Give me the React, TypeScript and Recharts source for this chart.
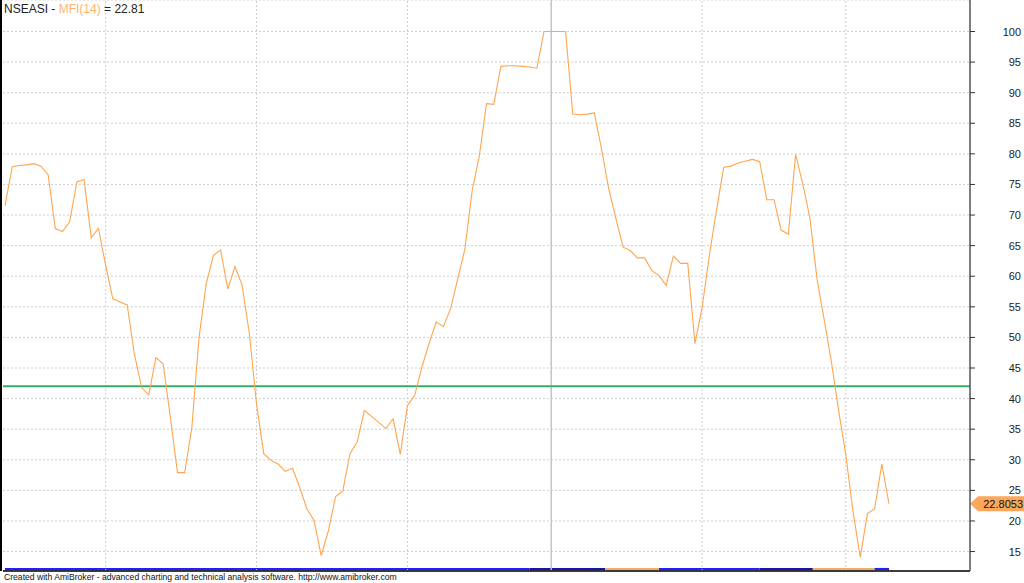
import React from "react";
import {
  LineChart,
  Line,
  XAxis,
  YAxis,
  CartesianGrid,
  ReferenceLine,
  ReferenceArea,
} from "recharts";

// ---- data ----
const TICKER = "NSEASI";
const INDICATOR = "MFI(14)";
const LAST_SHORT = "22.81";
const LAST_LONG = "22.8053";

const MFI: number[] = [
  71.5, 77.9, 78.1, 78.2, 78.4, 78.0, 76.6, 67.8, 67.3, 68.9,
  75.4, 75.8, 66.3, 67.8, 61.8, 56.3, 55.8, 55.3, 47.3, 41.8,
  40.6, 46.7, 45.7, 37.0, 27.9, 27.9, 35.3, 50.0, 58.8, 63.4,
  64.3, 57.9, 61.6, 58.5, 50.6, 39.1, 31.0, 29.9, 29.3, 28.1,
  28.6, 25.5, 22.0, 20.1, 14.35, 18.4, 24.0, 24.9, 31.0, 32.9,
  38.05, 37.1, 36.1, 35.1, 36.7, 30.9, 38.9, 40.5, 45.1, 49.0,
  52.5, 51.8, 54.7, 59.6, 64.5, 74.0, 79.7, 88.2, 88.1, 94.3,
  94.4, 94.4, 94.3, 94.2, 94.0, 100, 100, 100, 100, 86.5,
  86.4, 86.5, 86.7, 80.8, 74.3, 69.4, 64.75, 64.2, 63.0, 63.0,
  60.9, 60.1, 58.5, 63.3, 62.1, 62.1, 49.0, 54.9, 63.4, 70.8,
  77.8, 78.0, 78.5, 78.8, 79.1, 78.75, 72.5, 72.5, 67.5, 66.9,
  79.9, 75.1, 69.5, 59.4, 52.8, 45.9, 38.0, 30.7, 21.5, 14.1,
  21.2, 22.0, 29.3, 22.81,
];
const BARS: number[] = MFI.map((_, i) => i);

const LEVEL = 42.0;
const Y_TICKS = [15, 20, 25, 30, 35, 40, 45, 50, 55, 60, 65, 70, 75, 80, 85, 90, 95, 100];
const MONTH_STARTS = [14, 35, 56, 97, 117];
const YEAR_START = 76;

// ribbon at the bottom: [fromBar, toBar, kind]
const RIBBON_FROM = [0, 73, 83.5, 91, 105, 112.4, 121];
const RIBBON_TO = [73, 83.5, 91, 105, 112.4, 121, 123];
const RIBBON_KIND = ["blue", "dark", "orange", "blue", "dark", "orange", "blue"];

const FONT = "'Liberation Sans', Arial, Helvetica, sans-serif";
const ORANGE = "#ffa54f";

const data = BARS.map((b, i) => ({ bar: b, mfi: MFI[i] }));

const Y_MIN = 11.82;
const Y_MAX = 105.15;
const X_MIN = -0.278;
const X_MAX = 134.27;

const ribbonColor: Record<string, string> = {
  blue: "#1f1fff",
  dark: "#1515a8",
  orange: "#f2ad68",
};

const YTick = (props: any) => {
  const { x, y, payload } = props;
  return (
    <text
      x={x + 44}
      y={y}
      dy={4}
      textAnchor="end"
      fontFamily={FONT}
      fontSize={11}
      fill="#222"
    >
      {payload.value}
    </text>
  );
};

const ValueTag = (props: any) => {
  const vb = props.viewBox || {};
  const x0 = (vb.x || 0) + (vb.width || 0);
  const y0 = vb.y || 0;
  const h = 15;
  const pts = [
    [x0, y0],
    [x0 + 8, y0 - h / 2],
    [x0 + 56, y0 - h / 2],
    [x0 + 56, y0 + h / 2],
    [x0 + 8, y0 + h / 2],
  ]
    .map((p) => p.join(","))
    .join(" ");
  return (
    <g>
      <polygon points={pts} fill="#fba85c" />
      <text
        x={x0 + 53}
        y={y0}
        dy={4}
        textAnchor="end"
        fontFamily={FONT}
        fontSize={11}
        fill="#111"
      >
        {LAST_LONG}
      </text>
    </g>
  );
};

export default function App() {
  return (
    <div
      style={{
        position: "absolute",
        left: 0,
        top: 0,
        width: 1024,
        height: 583,
        background: "#fff",
        overflow: "hidden",
      }}
    >
      <LineChart
        width={1024}
        height={583}
        data={data}
        margin={{ top: 0, right: 0, bottom: 0, left: 3 }}
      >
        <CartesianGrid
          vertical={false}
          stroke="#cfcfcf"
          strokeDasharray="2 2"
        />
        <XAxis
          dataKey="bar"
          type="number"
          domain={[X_MIN, X_MAX]}
          allowDataOverflow
          tick={false}
          tickLine={false}
          height={12}
          axisLine={{ stroke: "#000", strokeWidth: 1.5 }}
        />
        <YAxis
          orientation="right"
          type="number"
          domain={[Y_MIN, Y_MAX]}
          allowDataOverflow
          ticks={Y_TICKS}
          interval={0}
          width={54}
          tickSize={5}
          tickLine={{ stroke: "#333" }}
          axisLine={{ stroke: "#555", strokeWidth: 1.5 }}
          tick={<YTick />}
        />
        {MONTH_STARTS.map((m) => (
          <ReferenceLine
            key={"m" + m}
            x={m}
            stroke="#cfcfcf"
            strokeDasharray="2 2"
          />
        ))}
        <ReferenceLine x={YEAR_START} stroke="#c4c4c4" strokeWidth={1.5} />
        {RIBBON_FROM.map((f, k) => (
          <ReferenceArea
            key={"r" + k}
            x1={f}
            x2={RIBBON_TO[k]}
            y1={Y_MIN + 0.14}
            y2={Y_MIN + 0.5}
            fill={ribbonColor[RIBBON_KIND[k]]}
            fillOpacity={1}
            stroke="none"
            ifOverflow="visible"
          />
        ))}
        <ReferenceLine y={LEVEL} stroke="#35ad6b" strokeWidth={2} />
        <Line
          type="linear"
          dataKey="mfi"
          stroke={ORANGE}
          strokeWidth={1.1}
          dot={false}
          activeDot={false}
          isAnimationActive={false}
        />
        <ReferenceLine
          y={MFI[MFI.length - 1]}
          stroke="none"
          label={<ValueTag />}
        />
      </LineChart>
      <div
        style={{
          position: "absolute",
          left: 0,
          top: 0,
          width: 2,
          height: 571,
          background: "#000",
        }}
      />
      <div
        style={{
          position: "absolute",
          left: 4,
          top: 1,
          fontFamily: FONT,
          fontSize: 12,
          color: "#222",
          whiteSpace: "nowrap",
          lineHeight: "16px",
        }}
      >
        {TICKER} - <span style={{ color: "#ffb36e" }}>{INDICATOR}</span> ={" "}
        {LAST_SHORT}
      </div>
      <div
        style={{
          position: "absolute",
          left: 4,
          top: 572,
          fontFamily: FONT,
          fontSize: 8.6,
          color: "#111",
          whiteSpace: "nowrap",
          lineHeight: "11px",
        }}
      >
        Created with AmiBroker - advanced charting and technical analysis
        software. http://www.amibroker.com
      </div>
    </div>
  );
}
